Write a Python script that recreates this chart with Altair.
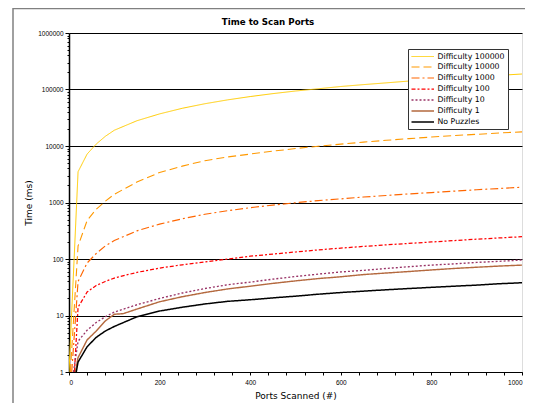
import altair as alt
import pandas as pd

SERIES = ["Difficulty 100000", "Difficulty 10000", "Difficulty 1000",
          "Difficulty 100", "Difficulty 10", "Difficulty 1", "No Puzzles"]
COLORS = ["#FFCC00", "#FF9900", "#FF6600", "#FF0000", "#993366", "#B4693F", "#000000"]
DASHES = [[1, 0], [8, 4], [8, 3, 2, 3], [4, 2, 2, 2], [2, 2], [1, 0], [1, 0]]
WIDTHS = [1, 1.5, 1.5, 2, 2, 1.5, 1.5]

X = [20, 40, 60, 80, 100, 150, 200, 250, 300, 350, 400, 450, 500, 550,
     600, 650, 700, 750, 800, 850, 900, 950, 1000]

d100000 = [3500, 7200, 10800, 14800, 19000, 28000, 37000, 46500, 56000, 65500, 75000,
           84500, 94000, 103000, 113000, 122000, 131000, 141000, 150000, 160000,
           169000, 178000, 188000]
d10000 = [170, 480, 760, 1050, 1400, 2300, 3400, 4400, 5500, 6400, 7200, 8100, 9000,
          9900, 10800, 11700, 12600, 13500, 14400, 15300, 16100, 17000, 17800]
d1000 = [40, 85, 125, 170, 212, 315, 415, 515, 620, 715, 810, 900, 990, 1080, 1160,
         1250, 1330, 1420, 1500, 1590, 1680, 1770, 1860]
d100 = [14, 26, 34, 40, 46, 58, 69, 79, 89, 100, 112, 122, 133, 145, 156, 167, 178,
        189, 200, 212, 224, 236, 248]
d10 = [3.5, 5.5, 7.5, 9.5, 11.5, 15.5, 20, 25, 30, 35, 39, 44, 49, 54, 59, 63, 68, 73,
       78, 82, 87, 91, 96]
X1 = [20, 40, 60, 80, 100, 120, 150, 200, 250, 300, 350, 400, 450, 500, 550,
      600, 650, 700, 750, 800, 850, 900, 950, 1000]
d1 = [1.8, 3.7, 5.3, 8, 10.5, 10.8, 13, 17.5, 21.5, 25.5, 29.5, 33, 37, 41, 45, 48.5,
      53, 56.5, 60, 64, 68, 71.5, 75, 78]
none = [1.5, 2.8, 4.1, 5.3, 6.4, 9.5, 12, 14, 16, 17.8, 19, 20.5, 22, 23.8, 25.5, 27,
        28.5, 30, 31.5, 33, 34.5, 36.5, 38]

# first (bottom-of-axis) point of each curve
START_X = [0, 3, 6, 12, 10, 14, 16]
START_Y = [1, 1, 1, 1, 1, 1, 1]

SERIES_X = [X, X, X, X, X, X1, X]
SERIES_Y = [d100000, d10000, d1000, d100, d10, d1, none]

TITLE = "Time to Scan Ports"

rows = []
for i, name in enumerate(SERIES):
    rows.append({"series": name, "ports": START_X[i], "time": START_Y[i]})
    for xv, yv in zip(SERIES_X[i], SERIES_Y[i]):
        rows.append({"series": name, "ports": xv, "time": yv})
df = pd.DataFrame(rows)

YTICKS = [m * 10 ** k for k in range(6) for m in range(1, 10)] + [1000000]
XTICKS = list(range(0, 1001, 40))
major_test = "indexof([1,10,100,1000,10000,100000,1000000], datum.value) >= 0"

FONT = "DejaVu Sans"
LFONT = "Liberation Sans"

lines = alt.Chart(df).mark_line(clip=True).encode(
    x=alt.X("ports:Q",
            scale=alt.Scale(domain=[0, 1000], nice=False),
            axis=alt.Axis(values=XTICKS, title="Ports Scanned (#)",
                          labelExpr="datum.value % 200 == 0 ? datum.label : ''",
                          format="d", grid=False, tickSize=3, labelPadding=4,
                          labelFont=LFONT, labelFontSize=6.5, labelColor="#000",
                          labelOverlap=False,
                          titleFont=FONT, titleFontSize=9, titleFontWeight="normal",
                          titleColor="#000", titlePadding=6,
                          domainColor="#000", tickColor="#000")),
    y=alt.Y("time:Q",
            scale=alt.Scale(type="log", domain=[1, 1000000], nice=False),
            axis=alt.Axis(values=YTICKS, title="Time (ms)", format="d",
                          labelExpr=major_test + " ? datum.label : ''",
                          labelOverlap=False, labelFont=LFONT, labelFontSize=6.5,
                          labelColor="#000", labelPadding=2,
                          tickSize={"condition": {"test": major_test, "value": 4}, "value": 2},
                          tickColor="#000", domainColor="#000", domainWidth=1.5,
                          grid=True, gridColor="#000", gridWidth=1,
                          gridOpacity={"condition": {"test": major_test, "value": 1}, "value": 0},
                          titleFont=FONT, titleFontSize=9, titleFontWeight="normal",
                          titleColor="#000", titlePadding=4)),
    color=alt.Color("series:N", scale=alt.Scale(domain=SERIES, range=COLORS),
                    legend=alt.Legend(title=None, orient="none", legendX=339, legendY=16,
                                      symbolType="M-1,0H4", symbolSize=81,
                                      labelFont=FONT, labelFontSize=7.8, labelColor="#000",
                                      labelOffset=16, rowPadding=1.0, padding=2.5,
                                      strokeColor="#333", fillColor="#fff",
                                      symbolLimit=0)),
    strokeDash=alt.StrokeDash("series:N", scale=alt.Scale(domain=SERIES, range=DASHES)),
    strokeWidth=alt.StrokeWidth("series:N", scale=alt.Scale(domain=SERIES, range=WIDTHS)),
)

frame_v = alt.Chart(alt.Data(values=[{}])).mark_rule(color="#808080", strokeWidth=1.5).encode(
    x=alt.value(-56), y=alt.value(-25), y2=alt.value(400))
frame_h = alt.Chart(alt.Data(values=[{}])).mark_rule(color="#808080", strokeWidth=1.5).encode(
    x=alt.value(-56), x2=alt.value(470), y=alt.value(-24.5))

title = alt.Chart(alt.Data(values=[{}])).mark_text(
    font=FONT, fontSize=8.7, fontWeight="bold", color="#000",
    align="center", baseline="middle").encode(
    x=alt.value(199), y=alt.value(-11.3), text=alt.value(TITLE))

chart = alt.layer(frame_v, frame_h, title, lines).properties(
    width=453, height=339,
    padding={"left": 61, "top": 25, "right": 3, "bottom": 31},
    autosize=alt.AutoSizeParams(type="none"),
).configure_view(stroke="#808080", strokeWidth=1).configure(background="#ffffff")

chart.save("out.html", embed_options={"renderer": "svg", "actions": False})
